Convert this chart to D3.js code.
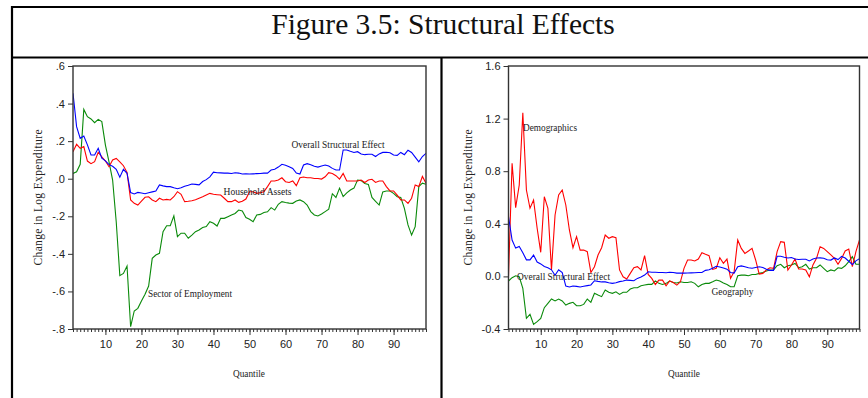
<!DOCTYPE html>
<html><head><meta charset="utf-8">
<script src="https://cdn.jsdelivr.net/npm/d3@7"></script>
<style>
html,body{margin:0;padding:0;background:#fff;}
svg{display:block;}
</style></head>
<body>
<svg id="c" width="868" height="398"></svg>
<script>
// ---- DATA ----
const quantiles = d3.range(1, 100);
const xTickValues = [10, 20, 30, 40, 50, 60, 70, 80, 90];
const leftYTicks = [-0.8, -0.6, -0.4, -0.2, 0, 0.2, 0.4, 0.6];
const rightYTicks = [-0.4, 0, 0.4, 0.8, 1.2, 1.6];

const overallStructural = [0.455,0.277,0.215,0.227,0.18,0.126,0.126,0.162,0.109,0.095,
0.075,0.066,0.05,0.008,0.05,0.029,-0.074,-0.081,-0.073,-0.076,
-0.08,-0.075,-0.07,-0.065,-0.033,-0.038,-0.042,-0.042,-0.048,-0.053,
-0.048,-0.04,-0.035,-0.028,-0.03,-0.033,-0.015,-0.005,0.01,0.035,
0.032,0.031,0.03,0.03,0.028,0.032,0.03,0.025,0.026,0.025,
0.026,0.027,0.028,0.03,0.03,0.046,0.05,0.062,0.077,0.072,
0.064,0.055,0.03,0.025,0.073,0.08,0.074,0.066,0.062,0.068,
0.073,0.068,0.055,0.046,0.046,0.153,0.153,0.146,0.14,0.144,
0.132,0.128,0.13,0.13,0.118,0.132,0.14,0.141,0.138,0.126,
0.124,0.14,0.128,0.152,0.14,0.115,0.09,0.118,0.135];

const householdAssets = [0.144,0.183,0.162,0.171,0.094,0.08,0.091,0.14,0.117,0.094,
0.064,0.1,0.108,0.09,0.069,0.034,-0.113,-0.131,-0.14,-0.119,
-0.099,-0.096,-0.113,-0.122,-0.104,-0.113,-0.11,-0.113,-0.096,-0.069,
-0.083,-0.122,-0.12,-0.117,-0.112,-0.104,-0.096,-0.087,-0.078,-0.083,
-0.085,-0.087,-0.104,-0.122,-0.122,-0.113,-0.126,-0.12,-0.108,-0.069,
-0.069,-0.078,-0.074,-0.069,-0.042,-0.012,-0.012,-0.007,0.005,-0.016,
-0.02,-0.012,-0.037,0.005,0.009,0.005,0.005,0.001,0.001,-0.002,
0.01,0.032,0.028,0.016,-0.002,0.028,-0.012,-0.012,-0.012,-0.012,
-0.007,-0.02,-0.007,-0.003,-0.02,-0.012,-0.012,-0.042,-0.065,-0.065,
-0.087,-0.113,-0.113,-0.131,-0.104,-0.033,-0.042,0.012,-0.024];

const sectorEmployment = [0.028,0.037,0.077,0.369,0.33,0.318,0.298,0.316,0.304,0.179,
0.09,-0.007,-0.229,-0.516,-0.504,-0.465,-0.788,-0.704,-0.69,-0.651,
-0.615,-0.571,-0.424,-0.406,-0.397,-0.282,-0.25,-0.25,-0.198,-0.308,
-0.29,-0.29,-0.317,-0.3,-0.282,-0.273,-0.26,-0.255,-0.229,-0.237,
-0.252,-0.211,-0.211,-0.202,-0.193,-0.185,-0.167,-0.172,-0.207,-0.216,
-0.229,-0.193,-0.19,-0.18,-0.176,-0.154,-0.167,-0.136,-0.122,-0.127,
-0.13,-0.131,-0.119,-0.113,-0.122,-0.14,-0.175,-0.193,-0.198,-0.188,
-0.175,-0.162,-0.08,-0.1,-0.05,-0.095,-0.075,-0.06,-0.05,-0.007,
-0.01,-0.025,-0.03,-0.1,-0.12,-0.14,-0.07,-0.065,-0.065,-0.078,
-0.096,-0.1,-0.158,-0.246,-0.3,-0.255,-0.042,-0.024,-0.03];

const demographics = [0.0,0.86,0.523,0.695,1.245,0.657,0.518,0.58,0.366,0.183,
0.606,0.518,0.049,0.467,0.619,0.657,0.543,0.353,0.218,0.302,
0.2,0.2,0.188,0.03,0.074,0.163,0.218,0.315,0.29,0.302,
0.295,0.049,-0.003,-0.02,0.023,0.066,0.074,0.049,0.158,0.015,
-0.015,-0.061,-0.028,-0.028,-0.071,-0.035,-0.046,-0.066,-0.041,0.061,
0.125,0.125,0.117,0.132,0.18,0.168,0.158,0.053,0.061,0.142,
0.099,0.132,-0.015,0.036,0.277,0.213,0.175,0.193,0.213,0.125,
0.018,0.023,0.049,0.066,0.061,0.188,0.264,0.259,0.049,0.087,
0.132,0.056,0.056,0.049,-0.003,0.087,0.137,0.226,0.213,0.188,
0.163,0.137,0.092,0.137,0.193,0.208,0.074,0.188,0.277];

const geography = [-0.035,-0.01,0.005,-0.003,-0.091,-0.319,-0.289,-0.365,-0.344,-0.319,
-0.238,-0.205,-0.172,-0.187,-0.172,-0.187,-0.218,-0.205,-0.197,-0.223,
-0.223,-0.213,-0.172,-0.197,-0.129,-0.142,-0.154,-0.104,-0.121,-0.129,
-0.117,-0.137,-0.121,-0.121,-0.096,-0.086,-0.086,-0.071,-0.066,-0.061,
-0.061,-0.035,-0.053,-0.061,-0.053,-0.035,-0.046,-0.05,-0.041,-0.046,
-0.046,-0.041,-0.053,-0.079,-0.061,-0.053,-0.053,-0.041,-0.028,-0.035,
-0.05,-0.061,-0.079,-0.079,0.005,0.01,0.01,0.005,0.015,0.015,
0.023,0.03,0.041,0.049,0.049,0.081,0.092,0.066,0.081,0.087,
0.099,0.066,0.074,0.092,0.056,0.066,0.066,0.087,0.061,0.036,
0.049,0.041,0.066,0.061,0.081,0.112,0.15,0.092,0.092];

// ---- DRAW ----
const svg = d3.select('#c');
const BLUE = '#0000ff', RED = '#ff0000', GREEN = '#0a8a0a';
const AX = '#333333';

// outer frame
svg.append('line').attr('x1',12).attr('x2',870).attr('y1',7).attr('y2',7).attr('stroke','#000').attr('stroke-width',2.2);
svg.append('line').attr('x1',12).attr('x2',12).attr('y1',6).attr('y2',400).attr('stroke','#000').attr('stroke-width',2.2);
svg.append('line').attr('x1',12).attr('x2',870).attr('y1',57.5).attr('y2',57.5).attr('stroke','#000').attr('stroke-width',2.2);
svg.append('line').attr('x1',441.5).attr('x2',441.5).attr('y1',57).attr('y2',400).attr('stroke','#000').attr('stroke-width',2.2);

svg.append('text').attr('x',443).attr('y',34).attr('text-anchor','middle')
  .attr('font-family','Liberation Serif, Times New Roman, serif').attr('font-size',29.5)
  .attr('fill','#111').text('Figure 3.5: Structural Effects');

function panel(cfg){
  const x = d3.scaleLinear().domain([1,99]).range([cfg.x0, cfg.x1]);
  const y = d3.scaleLinear().domain(cfg.yDomain).range([329,66]);
  const g = svg.append('g');

  // minor x ticks
  g.append('g').attr('transform','translate(0,329)')
    .call(d3.axisBottom(x).tickValues(quantiles).tickSize(3).tickFormat(''))
    .call(s=>{s.select('.domain').remove(); s.selectAll('line').attr('stroke',AX);});
  // major x ticks
  g.append('g').attr('transform','translate(0,329)')
    .call(d3.axisBottom(x).tickValues(xTickValues).tickSize(6).tickPadding(5).tickFormat(d3.format('d')))
    .call(s=>{s.select('.domain').remove(); s.selectAll('line').attr('stroke',AX);
      s.selectAll('text').attr('font-family','Liberation Sans, Arial, sans-serif').attr('font-size',11).attr('fill','#222');});
  // y axis
  g.append('g').attr('transform',`translate(${cfg.x0},0)`)
    .call(d3.axisLeft(y).tickValues(cfg.yTicks).tickSize(5).tickPadding(3).tickFormat(cfg.fmt))
    .call(s=>{s.select('.domain').remove(); s.selectAll('line').attr('stroke',AX);
      s.selectAll('text').attr('font-family','Liberation Sans, Arial, sans-serif').attr('font-size',11).attr('fill','#222');});

  // clip
  const cid = 'clip'+cfg.id;
  svg.append('clipPath').attr('id',cid).append('rect')
    .attr('x',cfg.x0).attr('y',66).attr('width',cfg.x1-cfg.x0).attr('height',263);
  const line = d3.line().x((d,i)=>x(quantiles[i])).y(d=>y(d));
  cfg.series.forEach(s=>{
    g.append('path').datum(s.values).attr('d',line).attr('fill','none')
      .attr('stroke',s.color).attr('stroke-width',1.1).attr('clip-path',`url(#${cid})`);
  });
  // frame
  g.append('rect').attr('x',cfg.x0).attr('y',66).attr('width',cfg.x1-cfg.x0).attr('height',263)
    .attr('fill','none').attr('stroke',AX).attr('stroke-width',1.4);

  // labels
  cfg.labels.forEach(l=>{
    g.append('text').attr('x',l.x).attr('y',l.y).attr('font-family','Liberation Serif, Times New Roman, serif')
      .attr('font-size',11).attr('fill','#222').attr('textLength',l.w).attr('lengthAdjust','spacingAndGlyphs').text(l.t);
  });
  // axis titles
  g.append('text').attr('transform',`translate(${cfg.yLabX},197.5) rotate(-90)`).attr('text-anchor','middle')
    .attr('font-family','Liberation Serif, Times New Roman, serif').attr('font-size',11.5).attr('fill','#222')
    .attr('textLength',136).attr('lengthAdjust','spacing').text('Change in Log Expenditure');
  g.append('text').attr('x',cfg.qX).attr('y',377).attr('text-anchor','middle')
    .attr('font-family','Liberation Serif, Times New Roman, serif').attr('font-size',11).attr('fill','#222')
    .attr('textLength',32).attr('lengthAdjust','spacingAndGlyphs').text('Quantile');
}

const hy = s => s.replace('\u2212', '-');
const fmtLeft = d => hy(d3.format('.1f')(d)).replace('0.', '.');
const fmtRight = d => hy(d3.format('.1f')(d));

panel({id:'L', x0:73, x1:426, yDomain:[-0.8,0.6], yTicks:leftYTicks, fmt:fmtLeft,
  series:[{values:sectorEmployment,color:GREEN},{values:householdAssets,color:RED},{values:overallStructural,color:BLUE}],
  labels:[{t:'Overall Structural Effect',x:291.5,y:148,w:93},{t:'Household Assets',x:223.5,y:195,w:68},{t:'Sector of Employment',x:148,y:297,w:84}],
  yLabX:42, qX:249});

panel({id:'R', x0:508.5, x1:859.5, yDomain:[-0.4,1.6], yTicks:rightYTicks, fmt:fmtRight,
  series:[{values:geography,color:GREEN},{values:demographics,color:RED},{values:overallStructural,color:BLUE}],
  labels:[{t:'Demographics',x:523,y:131,w:54},{t:'Overall Structural Effect',x:517,y:280,w:93},{t:'Geography',x:711.5,y:295,w:42}],
  yLabX:472, qX:684});
</script>
</body></html>
